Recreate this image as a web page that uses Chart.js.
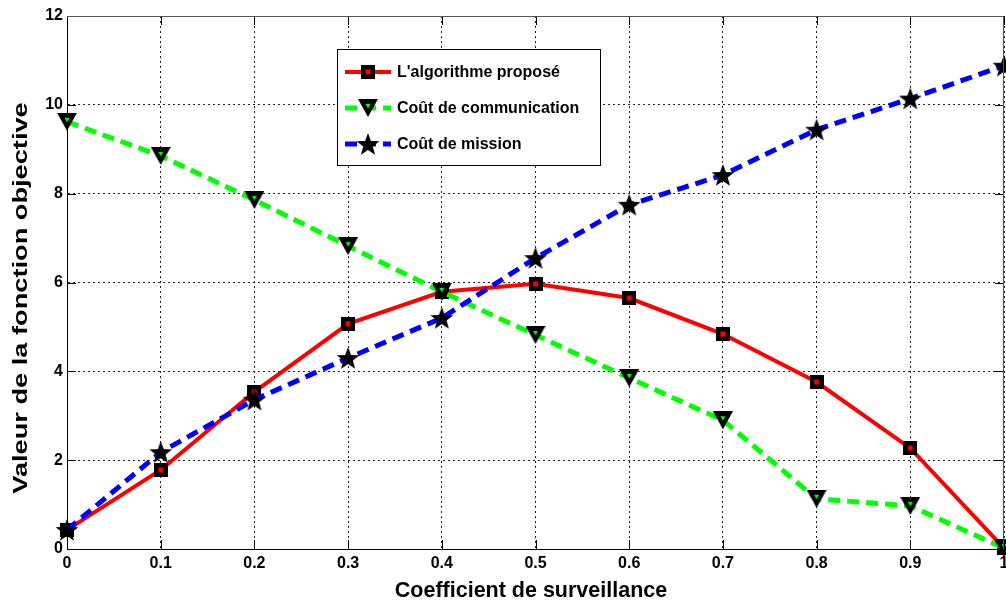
<!DOCTYPE html>
<html>
<head>
<meta charset="utf-8">
<script src="https://cdn.jsdelivr.net/npm/chart.js@4"></script>
<style>
  html, body { margin: 0; padding: 0; background: #fff; overflow: hidden; }
  canvas { display: block; }
</style>
</head>
<body>
<canvas id="chart" width="1006" height="602"></canvas>
<script>
// valeurs du graphe
const coefficients = [0, 0.1, 0.2, 0.3, 0.4, 0.5, 0.6, 0.7, 0.8, 0.9, 1];
const algoValues = [0.43, 1.78, 3.54, 5.07, 5.79, 5.97, 5.65, 4.84, 3.76, 2.27, 0.02];
const commValues = [9.62, 8.85, 7.86, 6.82, 5.79, 4.82, 3.85, 2.90, 1.13, 0.97, 0.02];
const missionValues = [0.43, 2.18, 3.36, 4.30, 5.20, 6.55, 7.75, 8.42, 9.44, 10.14, 10.88];
const seriesNames = ["L'algorithme proposé", 'Coût de communication', 'Coût de mission'];
const xTitle = 'Coefficient de surveillance';
const yTitle = 'Valeur de la fonction objective';

const FONT = '"Liberation Sans", Arial, sans-serif';

// --- marqueurs dessinés sur des petits canvas ---
function makeSquare() {
  const c = document.createElement('canvas');
  c.width = 14; c.height = 14;
  const g = c.getContext('2d');
  g.fillStyle = '#000';
  g.fillRect(0, 0, 14, 14);
  g.fillStyle = '#ff0000';
  g.fillRect(4.5, 4.5, 5, 5);
  return c;
}

function makeTriangle() {
  const c = document.createElement('canvas');
  c.width = 20; c.height = 18;
  const g = c.getContext('2d');
  g.fillStyle = '#000';
  g.beginPath();
  g.moveTo(0, 0); g.lineTo(20, 0); g.lineTo(10, 18); g.closePath();
  g.fill();
  g.fillStyle = '#00ff00';
  g.beginPath();
  g.moveTo(7.5, 5); g.lineTo(12.5, 5); g.lineTo(10, 9.5); g.closePath();
  g.fill();
  return c;
}

function makeStar() {
  const c = document.createElement('canvas');
  c.width = 24; c.height = 24;
  const g = c.getContext('2d');
  g.fillStyle = '#000';
  g.beginPath();
  for (let i = 0; i < 10; i++) {
    const r = i % 2 === 0 ? 12 : 5;
    const a = -Math.PI / 2 + i * Math.PI / 5;
    const px = 12 + r * Math.cos(a), py = 13 + r * Math.sin(a);
    if (i === 0) g.moveTo(px, py); else g.lineTo(px, py);
  }
  g.closePath();
  g.fill();
  return c;
}

const squareMark = makeSquare();
const triangleMark = makeTriangle();
const starMark = makeStar();

function toPoints(values) {
  return values.map((v, i) => ({ x: coefficients[i], y: v }));
}

// cadre + graduations vers l'intérieur (style matlab)
const boxPlugin = {
  id: 'boxTicks',
  afterDatasetsDraw(chart) {
    const { ctx, chartArea: a, scales } = chart;
    ctx.save();
    ctx.strokeStyle = '#000';
    ctx.lineWidth = 1;
    ctx.beginPath();
    scales.x.ticks.forEach(t => {
      const px = Math.round(scales.x.getPixelForValue(t.value)) + 0.5;
      ctx.moveTo(px, a.bottom); ctx.lineTo(px, a.bottom - 9);
      ctx.moveTo(px, a.top); ctx.lineTo(px, a.top + 9);
    });
    scales.y.ticks.forEach(t => {
      const py = Math.round(scales.y.getPixelForValue(t.value)) + 0.5;
      ctx.moveTo(a.left, py); ctx.lineTo(a.left + 9, py);
      ctx.moveTo(a.right, py); ctx.lineTo(a.right - 9, py);
    });
    ctx.stroke();
    ctx.strokeStyle = '#555';
    ctx.beginPath();
    ctx.moveTo(a.left, a.top + 0.5); ctx.lineTo(a.right, a.top + 0.5);
    ctx.moveTo(a.right - 0.5, a.top); ctx.lineTo(a.right - 0.5, a.bottom);
    ctx.stroke();
    ctx.restore();
  }
};

// titres des axes (celui de l'axe y est étiré en longueur)
const titlesPlugin = {
  id: 'axisTitles',
  afterDraw(chart) {
    const ctx = chart.ctx;
    ctx.save();
    ctx.fillStyle = '#000';
    ctx.textAlign = 'center';
    ctx.textBaseline = 'alphabetic';
    ctx.font = 'bold 21.5px ' + FONT;
    ctx.fillText(xTitle, 531, 597);
    ctx.translate(27, 298);
    ctx.rotate(-Math.PI / 2);
    ctx.scale(1.36, 1);
    ctx.font = 'bold 20px ' + FONT;
    ctx.fillText(yTitle, 0, 0);
    ctx.restore();
  }
};

// légende encadrée avec trait + marqueur
const legendPlugin = {
  id: 'boxLegend',
  afterDraw(chart) {
    const ctx = chart.ctx;
    const x0 = 337, y0 = 49, w = 263, h = 116;
    ctx.save();
    ctx.fillStyle = '#fff';
    ctx.fillRect(x0, y0, w, h);
    ctx.strokeStyle = '#000';
    ctx.lineWidth = 1;
    ctx.strokeRect(x0 + 0.5, y0 + 0.5, w, h);
    const rows = [72, 108, 144];
    chart.data.datasets.forEach((ds, i) => {
      const y = rows[i];
      ctx.strokeStyle = ds.borderColor;
      ctx.lineWidth = ds.borderWidth;
      ctx.setLineDash(ds.borderDash || []);
      ctx.beginPath();
      ctx.moveTo(345, y); ctx.lineTo(391, y);
      ctx.stroke();
      ctx.setLineDash([]);
      const m = ds.pointStyle;
      ctx.drawImage(m, 368 - m.width / 2, y - m.height / 2);
      ctx.fillStyle = '#000';
      ctx.font = 'bold 16px ' + FONT;
      ctx.textBaseline = 'middle';
      ctx.fillText(ds.label, 397, y + 1);
    });
    ctx.restore();
  }
};

new Chart(document.getElementById('chart'), {
  type: 'line',
  data: {
    datasets: [
      {
        label: seriesNames[0],
        data: toPoints(algoValues),
        borderColor: '#ff0000',
        borderWidth: 4,
        pointStyle: squareMark,
        clip: false,
        order: 3
      },
      {
        label: seriesNames[1],
        data: toPoints(commValues),
        borderColor: '#00ff00',
        borderWidth: 5,
        borderDash: [12, 7],
        pointStyle: triangleMark,
        clip: false,
        order: 2
      },
      {
        label: seriesNames[2],
        data: toPoints(missionValues),
        borderColor: '#0000ff',
        borderWidth: 5,
        borderDash: [12, 7],
        pointStyle: starMark,
        clip: false,
        order: 1
      }
    ]
  },
  options: {
    responsive: false,
    animation: false,
    layout: { autoPadding: false, padding: { top: 16, right: 2, left: 0, bottom: 0 } },
    plugins: {
      legend: { display: false },
      tooltip: { enabled: false }
    },
    elements: {
      line: { tension: 0, fill: false },
      point: { radius: 8 }
    },
    scales: {
      x: {
        type: 'linear',
        min: 0,
        max: 1,
        afterFit: s => { s.height = 53; s.paddingLeft = 0; s.paddingRight = 0; },
        ticks: {
          stepSize: 0.1,
          color: '#000',
          padding: 5,
          font: { family: FONT, size: 16, weight: 'bold' },
          callback: v => String(Number(v.toFixed(1)))
        },
        grid: { color: '#222', lineWidth: 1, drawTicks: false },
        border: { display: true, color: '#000', width: 1, dash: [2, 3] }
      },
      y: {
        min: 0,
        max: 12,
        afterFit: s => { s.width = 67; s.paddingTop = 0; s.paddingBottom = 0; },
        ticks: {
          stepSize: 2,
          color: '#000',
          padding: 4,
          font: { family: FONT, size: 16, weight: 'bold' }
        },
        grid: { color: '#222', lineWidth: 1, drawTicks: false },
        border: { display: true, color: '#000', width: 1, dash: [2, 3] }
      }
    }
  },
  plugins: [boxPlugin, legendPlugin, titlesPlugin]
});
</script>
</body>
</html>
